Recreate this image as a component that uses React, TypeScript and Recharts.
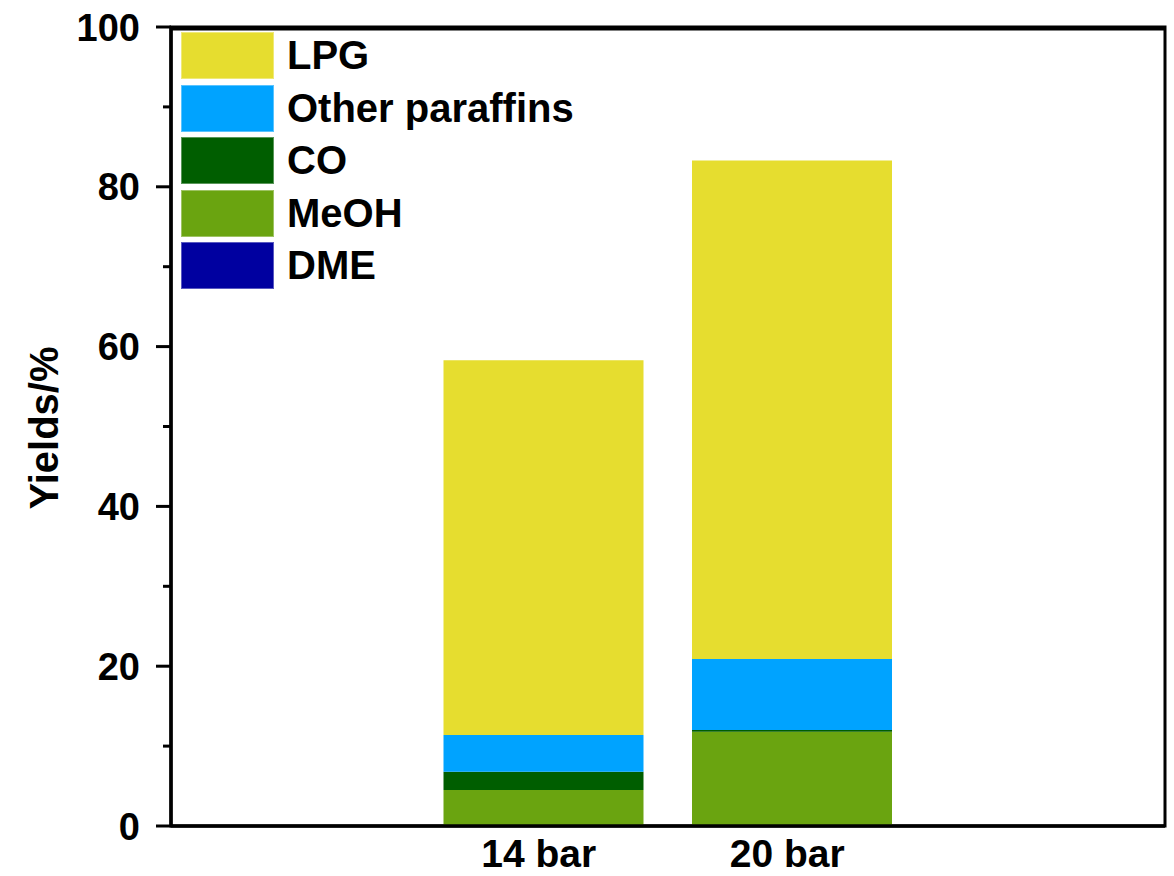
import React from 'react';
import { BarChart, Bar, XAxis, YAxis, Legend, ReferenceArea, ReferenceLine } from 'recharts';

// Pressure conditions (empty slots pad the axis on both sides)
const categories = ['', '14 bar', '20 bar', ''];

// Product yields in %, per condition
const dmeYield = [null, 0, 0, null];
const meohYield = [null, 4.5, 11.8, null];
const coYield = [null, 2.3, 0.2, null];
const otherParaffinsYield = [null, 4.6, 8.9, null];
const lpgYield = [null, 46.9, 62.4, null];

const yTicks = [0, 10, 20, 30, 40, 50, 60, 70, 80, 90, 100];

// Stack order, bottom to top
const seriesNames = ['DME', 'MeOH', 'CO', 'Other paraffins', 'LPG'];
const seriesKeys = ['dme', 'meoh', 'co', 'other', 'lpg'];
const seriesColors = ['#0000A0', '#6AA410', '#005E00', '#00A3FF', '#E6DD2F'];

const data = categories.map((name, i) => ({
  name,
  dme: dmeYield[i],
  meoh: meohYield[i],
  co: coYield[i],
  other: otherParaffinsYield[i],
  lpg: lpgYield[i],
}));

const FONT = '"Liberation Sans", Arial, sans-serif';

const YTick = (props: any) => {
  const { x, y, payload } = props;
  const major = payload.value % 20 === 0;
  return (
    <g>
      <line x1={x} x2={x - (major ? 15 : 8)} y1={y} y2={y} stroke="#000" strokeWidth={3} />
      {major && (
        <text
          x={x - 31}
          y={y}
          dy="0.36em"
          textAnchor="end"
          fontFamily={FONT}
          fontWeight="bold"
          fontSize={38}
          fill="#000"
        >
          {payload.value}
        </text>
      )}
    </g>
  );
};

const XTick = (props: any) => {
  const { x, y, payload } = props;
  if (!payload.value) return null;
  return (
    <text
      x={x - 5}
      y={y + 41}
      textAnchor="middle"
      fontFamily={FONT}
      fontWeight="bold"
      fontSize={39}
      fill="#000"
    >
      {payload.value}
    </text>
  );
};

// Legend lists the series top of stack first
const LegendBox = (props: any) => {
  const payload = props.payload || [];
  const items = [...seriesNames]
    .reverse()
    .map((n) => payload.find((p: any) => p.value === n))
    .filter(Boolean);
  return (
    <div style={{ position: 'relative', width: 420, height: 270 }}>
      {items.map((item: any, i: number) => (
        <div
          key={item.value}
          style={{
            position: 'absolute',
            left: 0,
            top: i * 52.5,
            height: 47,
            display: 'flex',
            alignItems: 'center',
          }}
        >
          <div
            style={{
              width: 93,
              height: 47,
              background: item.color,
              boxSizing: 'border-box',
              border: '1px solid rgba(255,255,255,0.35)',
            }}
          />
          <span
            style={{
              marginLeft: 13,
              fontFamily: FONT,
              fontWeight: 'bold',
              fontSize: 40,
              color: '#000',
              lineHeight: '47px',
              whiteSpace: 'nowrap',
            }}
          >
            {item.value}
          </span>
        </div>
      ))}
    </div>
  );
};

export default function App() {
  return (
    <div style={{ position: 'absolute', left: 0, top: 0, width: 1174, height: 876, background: '#fff' }}>
      <BarChart
        width={1174}
        height={876}
        data={data}
        margin={{ top: 27, right: 9, bottom: 0, left: 0 }}
        barSize={200}
      >
        {/* plot frame: right edge from the area outline, top edge as a line */}
        <ReferenceArea
          y1={0}
          y2={100}
          fill="none"
          stroke="#000"
          strokeWidth={3}
          strokeOpacity={1}
          ifOverflow="visible"
        />
        <ReferenceLine y={99.75} stroke="#000" strokeWidth={3} ifOverflow="visible" />
        <XAxis
          dataKey="name"
          height={50}
          tickSize={0}
          tickMargin={0}
          tickLine={false}
          tick={<XTick />}
          axisLine={{ stroke: '#000', strokeWidth: 3.5 }}
          interval={0}
        />
        <YAxis
          width={171}
          domain={[0, 100]}
          ticks={yTicks}
          interval={0}
          tickSize={0}
          tickMargin={0}
          tickLine={false}
          tick={<YTick />}
          axisLine={{ stroke: '#000', strokeWidth: 3.5 }}
          label={{
            content: () => (
              <text
                transform="translate(58,428) rotate(-90)"
                x={0}
                y={0}
                textAnchor="middle"
                fontFamily={FONT}
                fontWeight="bold"
                fontSize={40}
                fill="#000"
              >
                Yields/%
              </text>
            ),
          }}
        />
        <Legend
          layout="vertical"
          align="center"
          verticalAlign="middle"
          content={<LegendBox />}
          wrapperStyle={{ left: 181, top: 32, width: 420, height: 270 }}
        />
        {seriesKeys.map((key, i) => (
          <Bar
            key={key}
            dataKey={key}
            name={seriesNames[i]}
            stackId="yield"
            fill={seriesColors[i]}
            isAnimationActive={false}
          />
        ))}
      </BarChart>
    </div>
  );
}
